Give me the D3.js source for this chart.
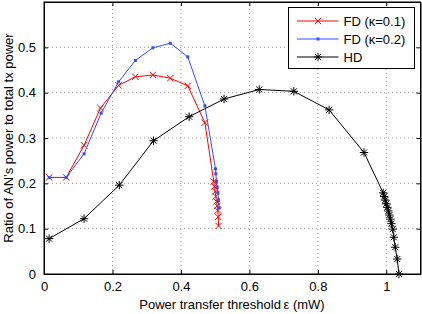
<!DOCTYPE html>
<html>
<head>
<meta charset="utf-8">
<script src="https://cdn.jsdelivr.net/npm/d3@7"></script>
<style>
	body { margin: 0; background: #fff; }
	text { font-family: "Liberation Sans", Arial, sans-serif; }
</style>
</head>
<body>
<div class="canva"></div>
<script>
// values
const fd1X = [0.015, 0.065, 0.117, 0.165, 0.218, 0.267, 0.318, 0.369, 0.42, 0.47, 0.496, 0.498, 0.5, 0.502, 0.504, 0.506, 0.508, 0.509, 0.51];
const fd1Y = [0.213, 0.213, 0.284, 0.366, 0.416, 0.435, 0.439, 0.432, 0.415, 0.334, 0.204, 0.193, 0.182, 0.171, 0.16, 0.15, 0.14, 0.126, 0.106];
const fd2X = [0.015, 0.065, 0.117, 0.167, 0.218, 0.267, 0.318, 0.369, 0.42, 0.47, 0.501, 0.502, 0.504, 0.506, 0.508, 0.51, 0.512];
const fd2Y = [0.213, 0.213, 0.265, 0.355, 0.424, 0.471, 0.499, 0.509, 0.479, 0.371, 0.232, 0.221, 0.204, 0.192, 0.18, 0.162, 0.146];
const hdX = [0.015, 0.117, 0.22, 0.32, 0.424, 0.526, 0.629, 0.73, 0.833, 0.935, 0.991, 0.994, 0.997, 1.0, 1.003, 1.006, 1.009, 1.012, 1.015, 1.019, 1.022, 1.026, 1.032, 1.037];
const hdY = [0.078, 0.122, 0.196, 0.294, 0.347, 0.386, 0.407, 0.403, 0.362, 0.268, 0.179, 0.171, 0.163, 0.155, 0.147, 0.139, 0.13, 0.121, 0.111, 0.099, 0.081, 0.059, 0.033, 0.0];
const xTicks = [0, 0.2, 0.4, 0.6, 0.8, 1];
const xTickLabels = ["0", "0.2", "0.4", "0.6", "0.8", "1"];
const yTicks = [0, 0.1, 0.2, 0.3, 0.4, 0.5];
const yTickLabels = ["0", "0.1", "0.2", "0.3", "0.4", "0.5"];
const seriesNames = ["FD (\u03ba=0.1)", "FD (\u03ba=0.2)", "HD"];

const W = 422, H = 314;
const m = { left: 44, top: 2, right: 1.5, bottom: 40 };

const svg = d3.select(".canva")
	.append("svg")
	.attr("width", W)
	.attr("height", H);

const x = d3.scaleLinear().domain([0, 1.1]).range([m.left, W - m.right]);
const y = d3.scaleLinear().domain([0, 0.6]).range([H - m.bottom, m.top]);

const red = "#ff0000", blue = "#3050ff", black = "#000";

// grid
svg.append("g")
	.selectAll("line")
	.data(xTicks.slice(1))
	.enter()
	.append("line")
	.attr("x1", d => x(d)).attr("x2", d => x(d))
	.attr("y1", y(0)).attr("y2", y(0.6))
	.attr("stroke", "#999").attr("stroke-dasharray", "1,3");
svg.append("g")
	.selectAll("line")
	.data(yTicks.slice(1))
	.enter()
	.append("line")
	.attr("y1", d => y(d)).attr("y2", d => y(d))
	.attr("x1", x(0)).attr("x2", x(1.1))
	.attr("stroke", "#999").attr("stroke-dasharray", "1,3");

// axes (ticks inward, matlab style)
const tl = 4;
svg.append("g")
	.attr("transform", `translate(0,${y(0)})`)
	.call(d3.axisBottom(x).tickValues(xTicks).tickFormat((d, i) => xTickLabels[i]).tickSizeInner(-tl).tickSizeOuter(0).tickPadding(8))
	.call(g => g.selectAll("text").attr("font-size", 13).attr("font-family", "Liberation Sans, Arial"));
svg.append("g")
	.attr("transform", `translate(0,${y(0.6)})`)
	.call(d3.axisTop(x).tickValues(xTicks).tickFormat("").tickSizeInner(-tl).tickSizeOuter(0));
svg.append("g")
	.attr("transform", `translate(${x(0)},0)`)
	.call(d3.axisLeft(y).tickValues(yTicks).tickFormat((d, i) => yTickLabels[i]).tickSizeInner(-tl).tickSizeOuter(0).tickPadding(8))
	.call(g => g.selectAll("text").attr("font-size", 13).attr("font-family", "Liberation Sans, Arial"));
svg.append("g")
	.attr("transform", `translate(${x(1.1)},0)`)
	.call(d3.axisRight(y).tickValues(yTicks).tickFormat("").tickSizeInner(-tl).tickSizeOuter(0));
svg.selectAll(".domain").attr("stroke", "#000");
svg.selectAll(".tick line").attr("stroke", "#000");

svg.append("rect")
	.attr("x", x(0)).attr("y", y(0.6))
	.attr("width", x(1.1) - x(0)).attr("height", y(0) - y(0.6))
	.attr("fill", "none").attr("stroke", "#000");

// markers
function xMark(g, s) {
	g.append("path").attr("d", `M${-s},${-s}L${s},${s}M${-s},${s}L${s},${-s}`);
}
function starMark(g, s) {
	const d = s * 0.72;
	g.append("path").attr("d", `M${-s},0L${s},0M0,${-s}L0,${s}M${-d},${-d}L${d},${d}M${-d},${d}L${d},${-d}`);
}
function dotMark(g) {
	g.append("rect").attr("x", -1.5).attr("y", -1.5).attr("width", 3).attr("height", 3).attr("stroke", "none");
}

const line = d3.line().x(d => x(d[0])).y(d => y(d[1]));
const series = [
	{ xs: fd1X, ys: fd1Y, color: red, mark: g => xMark(g, 3.2) },
	{ xs: fd2X, ys: fd2Y, color: blue, mark: g => dotMark(g) },
	{ xs: hdX, ys: hdY, color: black, mark: g => starMark(g, 4.2) }
];

series.forEach(s => {
	const pts = s.xs.map((v, i) => [v, s.ys[i]]);
	svg.append("path")
		.datum(pts)
		.attr("d", line)
		.attr("fill", "none")
		.attr("stroke", s.color)
		.attr("stroke-width", 1);
	svg.append("g")
		.selectAll("g")
		.data(pts)
		.enter()
		.append("g")
		.attr("transform", d => `translate(${x(d[0])},${y(d[1])})`)
		.attr("stroke", s.color).attr("fill", s.color).attr("stroke-width", 1)
		.each(function () { s.mark(d3.select(this)); });
});

// legend
const lg = svg.append("g").attr("transform", "translate(288.5,7.5)");
lg.append("rect").attr("width", 126).attr("height", 61).attr("fill", "#fff").attr("stroke", "#000");
series.forEach((s, i) => {
	const row = lg.append("g").attr("transform", `translate(0,${13.5 + i * 18})`);
	row.append("line").attr("x1", 8.5).attr("x2", 50).attr("stroke", s.color);
	const mk = row.append("g").attr("transform", "translate(29.5,0)")
		.attr("stroke", s.color).attr("fill", s.color);
	s.mark(mk);
	row.append("text").attr("x", 55).attr("y", 4.5)
		.attr("font-size", 13).text(seriesNames[i]);
});

// axis titles
svg.append("text")
	.attr("x", 232).attr("y", 309)
	.attr("text-anchor", "middle").attr("font-size", 13)
	.text("Power transfer threshold\u2009\u03b5 (mW)");
svg.append("text")
	.attr("transform", `translate(13,${(y(0) + y(0.6)) / 2}) rotate(-90)`)
	.attr("text-anchor", "middle").attr("font-size", 13)
	.text("Ratio of AN\u2019s power to total tx power");
</script>
</body>
</html>
